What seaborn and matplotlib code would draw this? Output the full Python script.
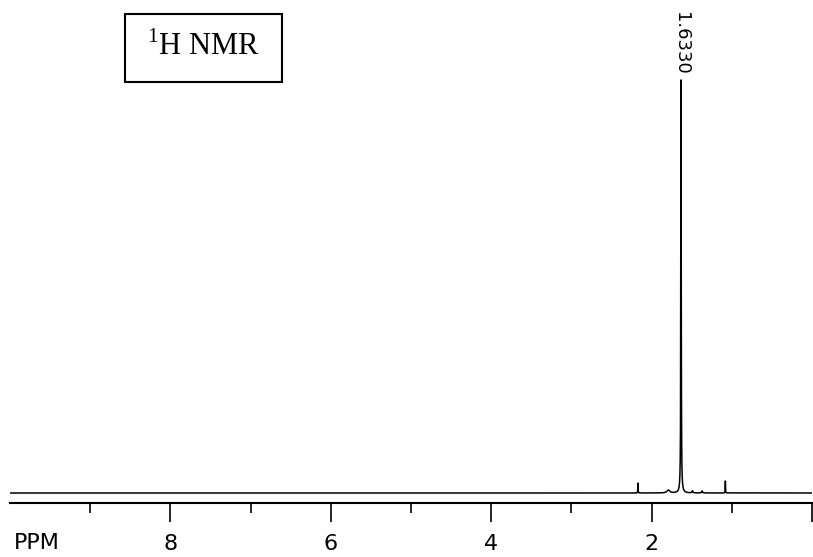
import numpy as np
import pandas as pd
import matplotlib
matplotlib.use("Agg")
import matplotlib.pyplot as plt
import seaborn as sns
from matplotlib.patches import Rectangle

# Peak list (ppm, relative height, half width ppm)
peak_ppm = [1.633, 2.17, 1.08, 1.79, 1.49, 1.37]
peak_height = [1.0, 0.024, 0.029, 0.007, 0.005, 0.005]
peak_width = [0.003, 0.002, 0.002, 0.02, 0.006, 0.006]

peak_label = "1.6330"
major_ticks = [8, 6, 4, 2, 0]
major_labels = ["8", "6", "4", "2", ""]
minor_ticks = [9, 7, 5, 3, 1]

ppm = np.linspace(0, 10, 40001)
intensity = np.zeros_like(ppm)
for p, h, w in zip(peak_ppm, peak_height, peak_width):
    intensity += h * w**2 / ((ppm - p) ** 2 + w**2)
df = pd.DataFrame({"ppm": ppm, "intensity": intensity})

sns.set_theme(style="white")
plt.rcParams["font.family"] = ["DejaVu Sans"]
plt.rcParams["text.color"] = "black"
plt.rcParams["xtick.color"] = "black"

W, H = 813, 557
fig = plt.figure(figsize=(W / 100, H / 100), dpi=100)
ax = fig.add_axes([10 / W, (H - 503) / H, 802 / W, 503 / H])
sns.lineplot(data=df, x="ppm", y="intensity", ax=ax, color="black", lw=1.1)
ax.set_xlim(10, 0)
ax.set_ylim(-10 / 413, 493 / 413)
for s in ["top", "left", "right"]:
    ax.spines[s].set_visible(False)
ax.spines["bottom"].set_color("black")
ax.spines["bottom"].set_linewidth(1.5)
ax.set_yticks([])
ax.set_xticks(major_ticks)
ax.set_xticklabels(major_labels, fontsize=16, color="black")
ax.set_xticks(minor_ticks, minor=True)
ax.tick_params(axis="x", which="major", direction="out", length=14, width=1.2,
               color="black", bottom=True, pad=8)
ax.tick_params(axis="x", which="minor", direction="out", length=7.5, width=1.2,
               color="black", bottom=True)
ax.set_xlabel("")
ax.set_ylabel("")
ax.patch.set_alpha(0)

fig.text(14 / W, 1 - 543 / H, "PPM", fontsize=16, ha="left", va="center",
         color="black")

# peak annotation
ax.text(peak_ppm[0], 1.0 + 5 / 413, peak_label, rotation=270, fontsize=13,
        ha="center", va="bottom", color="black")

# title box
fig.patches.append(Rectangle((125 / W, 1 - 82 / H), 157 / W, 68 / H,
                             transform=fig.transFigure, fill=False,
                             edgecolor="black", lw=1.5))
fig.text(203 / W, 1 - 47 / H, r"$^{\mathregular{1}}$H NMR", fontsize=22,
         family="Liberation Serif", ha="center", va="center", color="black")

fig.savefig("out.png", dpi=100)
